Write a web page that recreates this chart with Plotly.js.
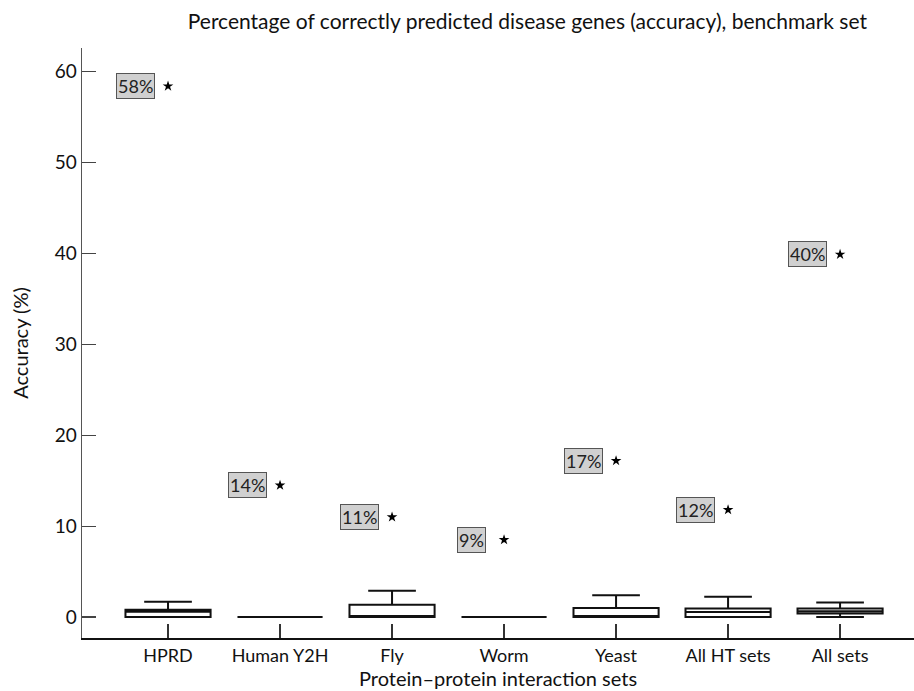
<!DOCTYPE html>
<html>
<head>
<meta charset="utf-8">
<script src="https://cdn.plot.ly/plotly-3.0.1.min.js"></script>
<style>html,body{margin:0;padding:0;background:#fff;}#chart{width:914px;height:691px;}</style>
</head>
<body>
<div id="chart"></div>
<script>
const categories = ["HPRD", "Human Y2H", "Fly", "Worm", "Yeast", "All HT sets", "All sets"];
const q1Values = [0, 0, 0, 0, 0, 0, 0.4];
const medianValues = [0.6, 0, 0, 0, 0, 0.55, 0.65];
const q3Values = [0.8, 0, 1.35, 0, 1.0, 0.95, 0.95];
const lowerValues = [0, 0, 0, 0, 0, 0, 0];
const upperValues = [1.7, 0, 2.9, 0, 2.4, 2.25, 1.6];
const outlierValues = [58.4, 14.5, 11.0, 8.5, 17.2, 11.8, 39.9];
const outlierLabels = ["58%", "14%", "11%", "9%", "17%", "12%", "40%"];
const yTickValues = [0, 10, 20, 30, 40, 50, 60];

const FONT = "Lato, 'Open Sans', sans-serif";

const boxTrace = {
  type: "box",
  x: categories,
  q1: q1Values,
  median: medianValues,
  q3: q3Values,
  lowerfence: lowerValues,
  upperfence: upperValues,
  boxpoints: false,
  fillcolor: "#ffffff",
  line: {color: "#111111", width: 2},
  width: 0.76,
  whiskerwidth: 0.56,
  showlegend: false,
  hoverinfo: "skip"
};

const starTrace = {
  type: "scatter",
  mode: "markers",
  x: categories,
  y: outlierValues,
  marker: {symbol: "star", size: 8, color: "#000000"},
  showlegend: false,
  hoverinfo: "skip"
};

const annotations = categories.map((c, i) => ({
  x: c, y: outlierValues[i], xref: "x", yref: "y",
  text: outlierLabels[i], showarrow: false,
  xshift: -33,
  bgcolor: "#d0d0d0", bordercolor: "#555555", borderwidth: 1, borderpad: 1,
  font: {family: FONT, size: 18, color: "#222"}
}));

const layout = {
  width: 914, height: 691,
  margin: {l: 82, r: 0, t: 48, b: 53},
  paper_bgcolor: "#ffffff", plot_bgcolor: "#ffffff",
  font: {family: FONT, size: 18, color: "#111"},
  title: {
    text: "Percentage of correctly predicted disease genes (accuracy), benchmark set",
    x: 0.577, xanchor: "center", xref: "container",
    y: 0.968, yanchor: "middle", yref: "container",
    font: {family: FONT, size: 21, color: "#111"}
  },
  xaxis: {
    type: "category",
    anchor: "y",
    range: [-0.768, 6.66],
    showline: true, linecolor: "#111", linewidth: 2,
    ticks: "inside", ticklen: 14, tickcolor: "#333", tickwidth: 1.5,
    showgrid: false, zeroline: false,
    tickfont: {family: FONT, size: 18, color: "#111"},
    title: {text: "Protein\u2013protein interaction sets", standoff: 4, font: {family: FONT, size: 20, color: "#111"}}
  },
  yaxis: {
    range: [-2.3, 62.6],
    tickvals: yTickValues,
    showline: true, linecolor: "#555", linewidth: 1.5,
    ticks: "inside", ticklen: 14, tickcolor: "#444", tickwidth: 1.2,
    showgrid: false, zeroline: false,
    tickfont: {family: FONT, size: 19, color: "#111"},
    title: {text: "Accuracy (%)", standoff: 20, font: {family: FONT, size: 20, color: "#111"}}
  },
  annotations: annotations
};

Plotly.newPlot("chart", [boxTrace, starTrace], layout, {displayModeBar: false, staticPlot: true});
</script>
</body>
</html>
